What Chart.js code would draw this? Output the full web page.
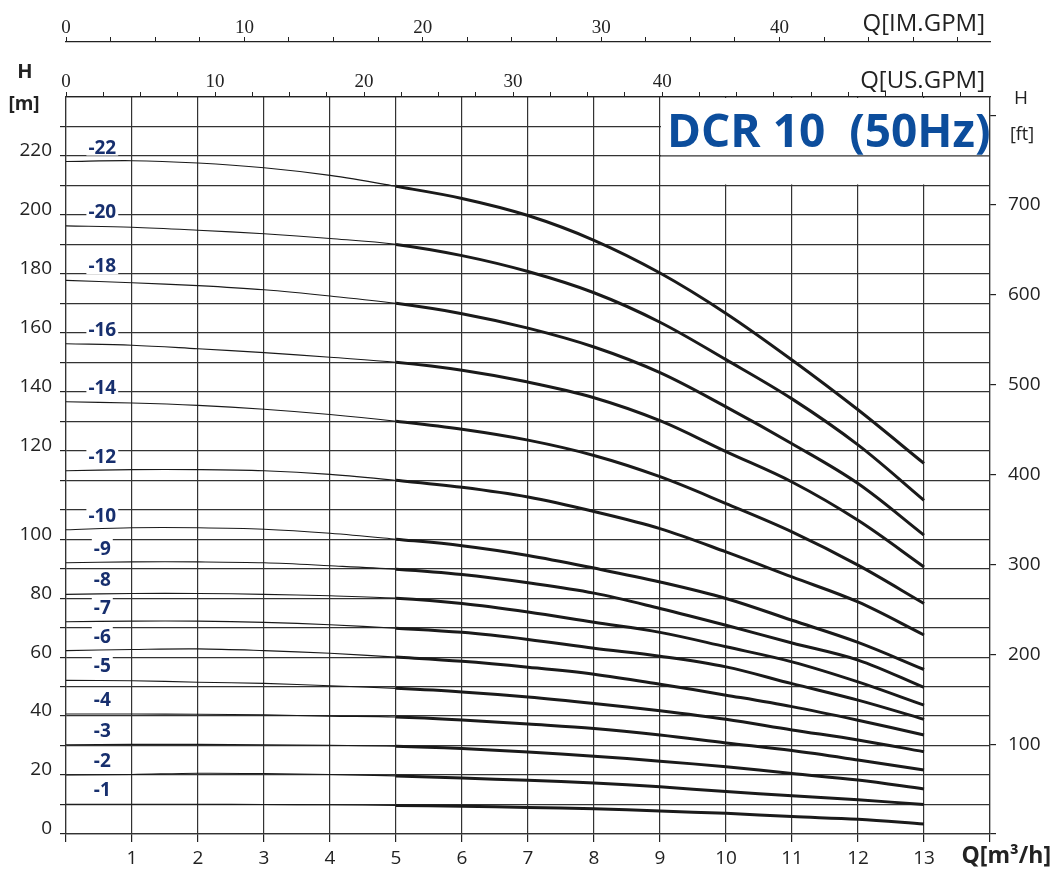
<!DOCTYPE html>
<html>
<head>
<meta charset="utf-8">
<title>DCR 10 (50Hz)</title>
<script src="https://cdn.jsdelivr.net/npm/chart.js@4.4.1/dist/chart.umd.min.js"></script>
<style>
  html, body { margin: 0; padding: 0; background: #fff; }
  #wrap { width: 1053px; height: 873px; position: relative; }
</style>
</head>
<body>
<div id="wrap"><canvas id="pump-chart"></canvas></div>
<script>
// DCR 10 (50Hz) - H/Q curves for every stage count

// Flow points, m3/h
const Q = [0, 1, 2, 3, 4, 5, 6, 7, 8, 9, 10, 11, 12, 13];

// Head in m per stage count
const H_1  = [10.1, 10.1, 10.1, 10.0, 9.9, 9.7, 9.4, 9.0, 8.6, 7.8, 7.0, 5.9, 5.0, 3.4];
const H_2  = [20.0, 20.2, 20.6, 20.5, 20.2, 19.7, 19.0, 18.2, 17.3, 16.0, 14.4, 13.0, 11.6, 10.0];
const H_3  = [30.3, 30.4, 30.4, 30.3, 30.1, 29.8, 29.0, 27.8, 26.4, 24.7, 22.8, 20.5, 18.3, 15.3];
const H_4  = [40.7, 40.7, 40.6, 40.4, 40.0, 39.7, 38.7, 37.3, 35.8, 33.6, 30.9, 28.3, 25.1, 21.7];
const H_5  = [52.1, 52.0, 51.5, 51.1, 50.3, 49.4, 48.2, 46.5, 44.3, 41.8, 38.9, 35.3, 31.9, 27.9];
const H_6  = [62.2, 62.6, 62.8, 62.2, 61.3, 60.0, 58.6, 56.6, 54.2, 50.8, 47.1, 43.2, 38.6, 33.6];
const H_7  = [72.0, 72.2, 72.2, 71.8, 71.0, 69.8, 68.4, 66.0, 63.0, 60.3, 56.7, 51.0, 45.4, 38.9];
const H_8  = [81.3, 81.6, 81.6, 81.3, 80.8, 80.0, 78.2, 75.3, 71.8, 68.4, 63.5, 58.4, 51.6, 43.7];
const H_9  = [92.0, 92.3, 92.3, 92.0, 91.0, 89.8, 88.0, 85.2, 81.7, 76.5, 70.8, 64.8, 59.0, 49.7];
const H_10 = [103.2, 103.9, 103.9, 103.4, 102.0, 100.0, 97.8, 94.5, 90.2, 85.5, 79.9, 72.5, 65.0, 55.8];
const H_12 = [123.2, 123.6, 123.6, 123.2, 122.0, 120.0, 117.6, 114.3, 109.4, 103.6, 95.7, 87.2, 78.7, 67.5];
const H_14 = [146.6, 146.2, 145.4, 144.1, 142.3, 140.0, 137.3, 133.6, 128.4, 121.2, 112.1, 102.5, 91.2, 78.2];
const H_16 = [166.3, 165.8, 164.6, 163.3, 161.7, 160.0, 157.3, 153.3, 148.0, 140.2, 129.7, 119.4, 106.4, 90.6];
const H_18 = [187.8, 187.0, 186.0, 184.6, 182.5, 180.0, 176.5, 171.6, 165.2, 156.5, 144.9, 132.4, 118.9, 101.4];
const H_20 = [206.3, 205.8, 204.8, 203.6, 202.0, 200.0, 196.2, 190.8, 183.6, 173.6, 160.9, 147.6, 132.0, 113.2];
const H_22 = [228.1, 228.4, 227.6, 226.0, 223.4, 219.7, 215.6, 209.8, 201.4, 190.3, 176.6, 160.8, 143.9, 125.7];

const STAGE_NAMES = ['-1', '-2', '-3', '-4', '-5', '-6', '-7', '-8', '-9', '-10', '-12', '-14', '-16', '-18', '-20', '-22'];
const STAGE_HEADS = [H_1, H_2, H_3, H_4, H_5, H_6, H_7, H_8, H_9, H_10, H_12, H_14, H_16, H_18, H_20, H_22];

// Left axis labels as printed (above 100 they sit one grid line higher)
const H_M_LABELS = ['0', '20', '40', '60', '80', '100', '120', '140', '160', '180', '200', '220'];

// Axis ranges
const Q_MAX = 14;
const H_MAX = 250;
const FT_MAX = H_MAX * 3.28084;
const US_GPM_MAX = 62.0;
const IM_GPM_MAX = 51.8;
const THICK_FROM = 5;   // curves are drawn heavy from this flow on

const SANS = '"Open Sans", "Noto Sans", sans-serif';
const SERIF = '"Liberation Serif", "DejaVu Serif", serif';
const INK = '#222';
const GRID = '#333';
const NAVY = '#172f6e';

function mLabel(v) {
  // grid every 10 m, printed label every second line
  if (v === 110) return '';
  const shown = v <= 100 ? v : v - 10;
  if (shown % 20 !== 0) return '';
  return H_M_LABELS[shown / 20] || '';
}

const datasets = STAGE_HEADS.map((heads, i) => ({
  label: STAGE_NAMES[i],
  data: Q.map((q, j) => ({ x: q, y: heads[j] })),
  borderColor: '#1a1a1a',
  borderWidth: 3,
  pointRadius: 0,
  tension: 0.35,
  segment: {
    borderWidth: ctx => ctx.p1.parsed.x <= THICK_FROM ? 1.1 : 3
  }
}));

const decor = {
  id: 'decor',
  beforeDatasetsDraw(chart) {
    const { ctx, scales: { x, y } } = chart;
    const l = x.getPixelForValue(9);
    const r = x.getPixelForValue(Q_MAX);
    const t = y.getPixelForValue(H_MAX);
    const b = y.getPixelForValue(220);
    ctx.save();
    // white panel for the title
    ctx.fillStyle = '#fff';
    ctx.fillRect(l + 1, t + 1, r - l - 2, b - t - 2);
    ctx.strokeStyle = GRID;
    ctx.lineWidth = 1.2;
    const y230 = y.getPixelForValue(230);
    ctx.beginPath();
    ctx.moveTo(l, y230);
    ctx.lineTo(r, y230);
    ctx.stroke();
    ctx.fillStyle = '#0c4d9c';
    ctx.font = 'bold 46px ' + SANS;
    ctx.textAlign = 'left';
    ctx.textBaseline = 'alphabetic';
    ctx.fillText('DCR 10  (50Hz)', l + 7, t + 50);
    ctx.restore();
  },
  afterDatasetsDraw(chart) {
    const { ctx, scales: { x, y } } = chart;
    ctx.save();
    ctx.font = 'bold 19px ' + SANS;
    ctx.textAlign = 'center';
    ctx.textBaseline = 'alphabetic';
    chart.data.datasets.forEach(ds => {
      const px = x.getPixelForValue(0.55);
      const py = y.getPixelForValue(ds.data[0].y) - 8;
      const w = ctx.measureText(ds.label).width;
      ctx.fillStyle = '#fff';
      ctx.fillRect(px - w / 2 - 2, py - 16, w + 4, 18);
      ctx.fillStyle = NAVY;
      ctx.fillText(ds.label, px, py);
    });
    ctx.restore();
  },
  afterDraw(chart) {
    const { ctx } = chart;
    ctx.save();
    ctx.fillStyle = INK;
    ctx.textBaseline = 'alphabetic';
    // left axis title
    ctx.textAlign = 'center';
    ctx.font = 'bold 20px ' + SANS;
    ctx.fillText('H', 25, 78);
    ctx.font = 'bold 19px ' + SANS;
    ctx.fillText('[m]', 24, 110);
    // right axis title
    ctx.font = '19px ' + SANS;
    ctx.fillText('H', 1021, 104);
    ctx.font = '18px ' + SANS;
    ctx.fillText('[ft]', 1022, 140);
    // flow axis titles
    ctx.textAlign = 'right';
    ctx.font = '24px ' + SANS;
    ctx.fillText('Q[IM.GPM]', 985, 31);
    ctx.fillText('Q[US.GPM]', 985, 88);
    ctx.font = 'bold 23px ' + SANS;
    ctx.fillText('Q[m\u00b3/h]', 1051, 863);
    ctx.restore();
  }
};

const tickFont = { family: SANS, size: 19 };
const serifFont = { family: SERIF, size: 19 };

new Chart(document.getElementById('pump-chart'), {
  type: 'line',
  data: { datasets },
  plugins: [decor],
  options: {
    responsive: true,
    maintainAspectRatio: false,
    animation: false,
    layout: { padding: 0 },
    plugins: {
      legend: { display: false },
      tooltip: { enabled: false }
    },
    scales: {
      x: {
        type: 'linear',
        position: 'bottom',
        min: 0,
        max: Q_MAX,
        afterFit: s => { s.height = 39; },
        ticks: {
          stepSize: 1,
          autoSkip: false,
          maxRotation: 0,
          padding: 5,
          color: INK,
          font: tickFont,
          callback: v => (v === 0 || v === Q_MAX) ? '' : String(v)
        },
        grid: { color: GRID, lineWidth: 1.2, tickLength: 8, tickColor: INK },
        border: { color: GRID, width: 1.2 }
      },
      xUS: {
        type: 'linear',
        position: 'top',
        weight: 0,
        min: 0,
        max: US_GPM_MAX,
        afterFit: s => { s.height = 55; },
        ticks: {
          stepSize: 2.5,
          includeBounds: false,
          autoSkip: false,
          maxRotation: 0,
          padding: -1,
          color: INK,
          font: serifFont,
          callback: v => (v % 10 === 0 && v <= 40) ? String(v) : ''
        },
        grid: { drawOnChartArea: false, tickLength: 5, tickColor: INK, lineWidth: 1 },
        border: { color: INK, width: 1.2 }
      },
      xIM: {
        type: 'linear',
        position: 'top',
        weight: 1,
        min: 0,
        max: IM_GPM_MAX,
        afterFit: s => { s.height = 42; },
        ticks: {
          stepSize: 2.5,
          includeBounds: false,
          autoSkip: false,
          maxRotation: 0,
          padding: -2,
          color: INK,
          font: serifFont,
          callback: v => (v % 10 === 0 && v <= 40) ? String(v) : ''
        },
        grid: { drawOnChartArea: false, tickLength: 5, tickColor: INK, lineWidth: 1 },
        border: { color: INK, width: 1.2 }
      },
      y: {
        type: 'linear',
        position: 'left',
        min: 0,
        max: H_MAX,
        afterFit: s => { s.width = 66; },
        ticks: {
          stepSize: 10,
          autoSkip: false,
          padding: 8,
          labelOffset: -5,
          color: INK,
          font: tickFont,
          callback: v => mLabel(v)
        },
        grid: {
          color: GRID,
          lineWidth: 1.2,
          tickLength: 6,
          tickColor: ctx => (ctx.tick && ctx.tick.value === H_MAX) ? 'rgba(0,0,0,0)' : INK
        },
        border: { color: GRID, width: 1.2 }
      },
      yFt: {
        type: 'linear',
        position: 'right',
        min: 0,
        max: FT_MAX,
        afterFit: s => { s.width = 63; },
        ticks: {
          stepSize: 100,
          includeBounds: false,
          autoSkip: false,
          padding: 12,
          color: INK,
          font: tickFont,
          callback: v => (v === 0 || v >= 800) ? '' : String(v)
        },
        grid: { drawOnChartArea: false, tickLength: 6, tickColor: INK, lineWidth: 1.2 },
        border: { color: GRID, width: 1.2 }
      }
    }
  }
});
</script>
</body>
</html>
